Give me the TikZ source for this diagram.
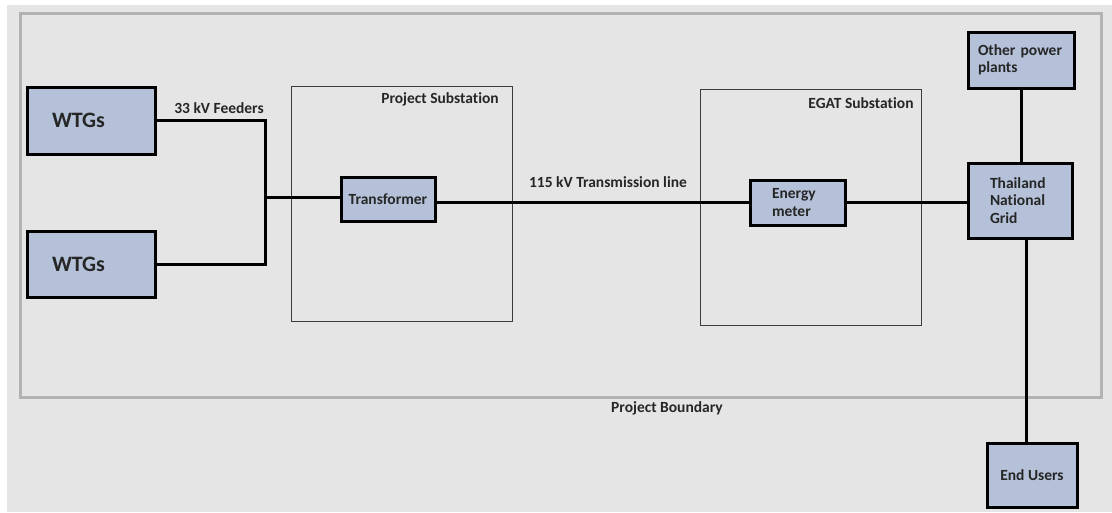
\documentclass[tikz,border=0pt]{standalone}
\usepackage{fontspec}
\setmainfont{Carlito}[Ligatures=NoCommon]
\usepackage{tikz}
\usetikzlibrary{positioning}
\definecolor{boxfill}{RGB}{180,193,216}
\definecolor{bggray}{RGB}{229,229,229}
\definecolor{edgegray}{RGB}{178,178,178}
\definecolor{inkgray}{RGB}{38,38,38}

\begin{document}
\begin{tikzpicture}[x=1pt, y=-1pt,
  unit/.style={draw=black, fill=boxfill, line width=3pt, inner sep=0pt, text=inkgray,
    font=\bfseries\fontsize{15.5}{17.5}\selectfont},
  wire/.style={line width=3pt},
  frame/.style={draw=inkgray!90, line width=1pt},
  lbl/.style={inner sep=1pt, text=inkgray, font=\bfseries\fontsize{15.5}{17.5}\selectfont}]
  \useasboundingbox (0,0) rectangle (1112,512);
  \fill[white] (0,0) rectangle (1112,512);
  \fill[bggray] (7,5) rectangle (1112,512);
  \draw[draw=edgegray, line width=3pt] (20,13) rectangle (1101,397);
  \draw[frame] (291,86) rectangle (512,321);
  \draw[frame] (700,89) rectangle (921,325);
  \node[lbl] (bndlbl) at (667,408) {Project Boundary};
  \node[lbl] (pslbl) at (440,99) {Project Substation};
  \node[lbl] (egatlbl) at (861,103) {EGAT Substation};
  \node[lbl] (feedlbl) at (219,108) {33 kV Feeders};
  \node[lbl] (txlbl) at (608,182) {115 kV Transmission line};
  \node[unit, minimum width=128pt, minimum height=67pt, text width=78pt, align=left] (wtgA) at (91,120.5) {\fontsize{22}{24}\selectfont WTGs};
  \node[unit, minimum width=128pt, minimum height=66pt, text width=78pt, align=left] (wtgB) at (91,264) {\fontsize{22}{24}\selectfont WTGs};
  \node[unit, minimum width=94pt, minimum height=44pt] (trafo) at (388,199) {Transformer};
  \node[unit, minimum width=95pt, minimum height=45pt, text width=51pt, align=left] (meter) at (797.5,202.5) {Energy\\meter};
  \node[unit, minimum width=104pt, minimum height=75pt, text width=60pt, align=left] (grid) at (1020,200.5) {Thailand\\National\\Grid};
  \node[unit, minimum width=106pt, minimum height=56pt, text width=86pt, align=left] (other) at (1021,60) {Other power\\plants};
  \node[unit, minimum width=90pt, minimum height=64pt] (users) at (1032,475) {End Users};
  \coordinate (bus) at (265,197);
  \draw[wire] (wtgA.east) -| (bus) |- (wtgB.east);
  \draw[wire] (bus) -- (bus -| trafo.west);
  \draw[wire] (trafo.east |- meter.west) -- (meter.west);
  \draw[wire] (meter.east) -- (meter.east -| grid.west);
  \draw[wire] (other.south) -- (other.south |- grid.north);
  \draw[wire] ([xshift=6pt]grid.south) -- ([xshift=6pt]grid.south |- users.north);
\end{tikzpicture}
\end{document}
